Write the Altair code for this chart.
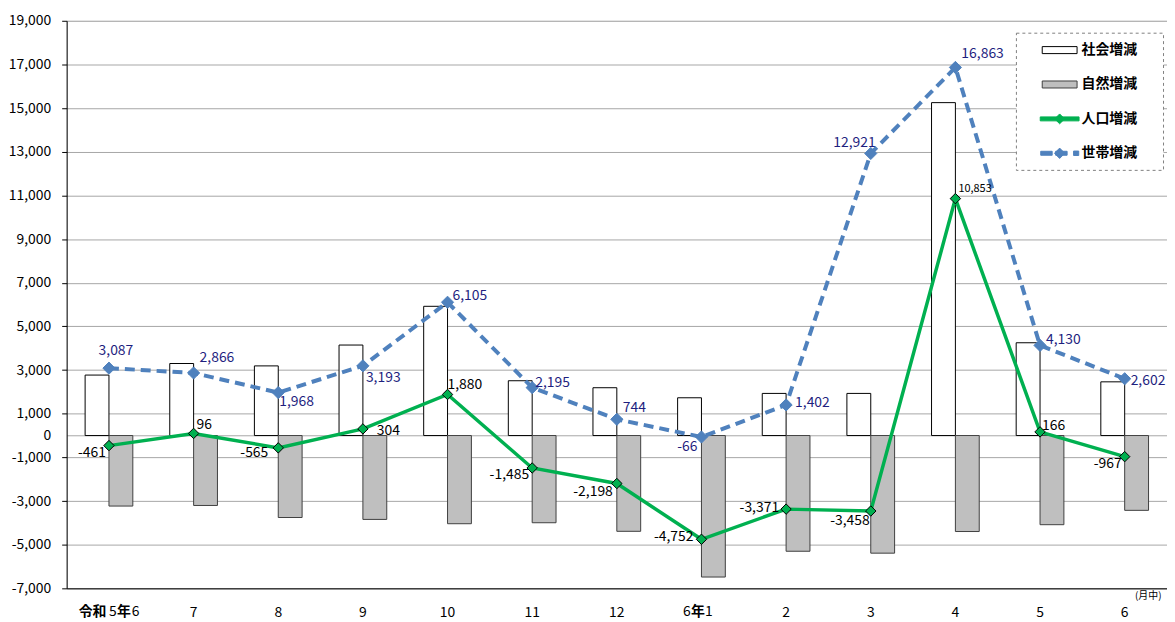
import altair as alt
import pandas as pd

FONT = "Noto Sans CJK JP"

# ---------------- data ----------------
MONTH_LABELS = ["令和5年6", "7", "8", "9", "10", "11", "12", "6年1", "2", "3", "4", "5", "6"]
SOCIAL = [2770, 3300, 3190, 4146, 5920, 2510, 2190, 1730, 1930, 1930, 15250, 4250, 2460]
NATURAL = [-3231, -3204, -3755, -3842, -4040, -3995, -4388, -6482, -5301, -5388, -4397, -4084, -3427]
POP = [-461, 96, -565, 304, 1880, -1485, -2198, -4752, -3371, -3458, 10853, 166, -967]
HH = [3087, 2866, 1968, 3193, 6105, 2195, 744, -66, 1402, 12921, 16863, 4130, 2602]
SERIES = ["社会増減", "自然増減", "人口増減", "世帯増減"]
Y_TICKS = [-7000, -5000, -3000, -1000, 0, 1000, 3000, 5000, 7000, 9000, 11000, 13000, 15000, 17000, 19000]
UNIT_NOTE = "(月中)"
# era labels with mixed weight: (month index, text piece, bold?)
ERA_LABEL_PARTS = [(0, "令和", True), (0, "5", False), (0, "年", True), (0, "6", False),
                   (7, "6", False), (7, "年", True), (7, "1", False)]

# ---------------- layout ----------------
HH_LABEL_POS = [("center", 7, -17), ("left", 6, -15), ("left", 1, 10), ("left", 3, 12),
                ("left", 5, -6), ("left", 3, -5), ("left", 6, -11), ("right", -4, 10),
                ("left", 9, -2), ("right", 5, -11), ("left", 6, -13), ("left", 6, -5),
                ("left", 6, 2)]
POP_LABEL_POS = [("right", -3, 7), ("left", 3, -8), ("right", -10, 5), ("left", 14, 2),
                 ("left", 0, -10), ("right", -3, 7), ("right", -4, 9), ("right", -8, -2),
                 ("right", -7, -1), ("right", -1, 10), ("left", 3, -10), ("left", 2, -6),
                 ("right", -3, 7)]
ERA_PART_DX = [-30.5, 0, 8, 23, -18.5, -10.5, 3.5]

W, H = 1107, 571
XLAB_PAD = 17

df = pd.DataFrame({
    "idx": list(range(len(MONTH_LABELS))),
    "social": SOCIAL,
    "natural": NATURAL,
    "pop": POP,
    "hh": HH,
})
df["pop_lbl"] = [f"{v:,}" for v in POP]
df["hh_lbl"] = [f"{v:,}" for v in HH]

era_idx = {p[0] for p in ERA_LABEL_PARTS}
axis_labels = ["" if i in era_idx else s for i, s in enumerate(MONTH_LABELS)]
label_expr = "[" + ",".join(f"'{s}'" for s in axis_labels) + "][datum.value]"

x_enc = alt.X(
    "idx:O",
    scale=alt.Scale(paddingInner=0, paddingOuter=0),
    axis=alt.Axis(
        labelExpr=label_expr, labelAngle=0, ticks=False, labelPadding=XLAB_PAD,
        labelFontSize=14, labelColor="#000", labelFont=FONT,
        domainColor="#000", domainWidth=1, grid=False,
        title=UNIT_NOTE, titleX=W - 6, titleY=7, titleAlign="right",
        titleBaseline="middle", titleFontSize=10, titleFontWeight="normal",
        titleColor="#000", titleFont=FONT,
    ),
)
y_scale = alt.Scale(domain=[-7000, 19000], nice=False, zero=False)
y_axis = alt.Axis(
    values=Y_TICKS, labelExpr="replace(format(datum.value, ','), '\u2212', '-')",
    title=None, grid=True, gridColor="#A6A6A6", gridWidth=1,
    tickSize=5, tickColor={"condition": {"test": "datum.value === 0", "value": "transparent"}, "value": "#000"},
    labelPadding=11, domainColor="#000",
    labelFontSize=14, labelColor="#000", labelFont=FONT,
)

base = alt.Chart(df)

white_bars = base.mark_bar(size=24, xOffset=-12, fill="white", stroke="#000", strokeWidth=1).encode(
    x=x_enc, y=alt.Y("social:Q", scale=y_scale, axis=y_axis), y2=alt.datum(0)
)
gray_bars = base.mark_bar(size=24, xOffset=12, fill="#BFBFBF", stroke="#404040", strokeWidth=1).encode(
    x=x_enc, y=alt.Y("natural:Q", scale=y_scale, axis=y_axis), y2=alt.datum(0)
)
hh_line = base.mark_line(color="#4F81BD", strokeWidth=4, strokeDash=[10, 6]).encode(
    x=x_enc, y=alt.Y("hh:Q", scale=y_scale, axis=y_axis)
)
hh_pts = base.mark_point(shape="diamond", filled=True, fill="#4F81BD", stroke="#4F81BD",
                         strokeWidth=1, size=150, opacity=1).encode(
    x=x_enc, y=alt.Y("hh:Q", scale=y_scale, axis=y_axis)
)
pop_line = base.mark_line(color="#00B050", strokeWidth=3.5).encode(
    x=x_enc, y=alt.Y("pop:Q", scale=y_scale, axis=y_axis)
)
pop_pts = base.mark_point(shape="diamond", filled=True, fill="#00B050", stroke="#000",
                          strokeWidth=1, size=110, opacity=1).encode(
    x=x_enc, y=alt.Y("pop:Q", scale=y_scale, axis=y_axis)
)

label_layers = []
for i, (al, dx, dy) in enumerate(HH_LABEL_POS):
    label_layers.append(
        base.transform_filter(alt.datum.idx == i).mark_text(
            align=al, dx=dx, dy=dy, baseline="middle", fontSize=14, color="#1F1F7F", font=FONT
        ).encode(x=x_enc, y=alt.Y("hh:Q", scale=y_scale, axis=y_axis), text="hh_lbl:N")
    )
for i, (al, dx, dy) in enumerate(POP_LABEL_POS):
    fs = 11 if POP[i] > 10000 else 14
    label_layers.append(
        base.transform_filter(alt.datum.idx == i).mark_text(
            align=al, dx=dx, dy=dy, baseline="middle", fontSize=fs, color="#000", font=FONT
        ).encode(x=x_enc, y=alt.Y("pop:Q", scale=y_scale, axis=y_axis), text="pop_lbl:N")
    )

# x labels with mixed weights (era names)
era_df = pd.DataFrame({
    "idx": [p[0] for p in ERA_LABEL_PARTS],
    "txt": [p[1] for p in ERA_LABEL_PARTS],
    "part": list(range(len(ERA_LABEL_PARTS))),
})
era_layers = []
for k, (mi, txt, bold) in enumerate(ERA_LABEL_PARTS):
    era_layers.append(
        alt.Chart(era_df).transform_filter(alt.datum.part == k).mark_text(
            align="left", baseline="top", dx=ERA_PART_DX[k], dy=XLAB_PAD, fontSize=14,
            fontWeight="bold" if bold else "normal", color="#000", font=FONT
        ).encode(x=x_enc, y=alt.Y(datum=-7000, scale=y_scale, axis=y_axis), text="txt:N")
    )

# legend driver (no visible points: values are empty)
FILL_RANGE = ["#FFFFFF", "#BFBFBF", "#00B050", "#4F81BD"]
STROKE_RANGE = ["#000000", "#404040", "#00B050", "#4F81BD"]
SHAPES = [
    "M-2.19,-0.44H2.19V0.44H-2.19Z",
    "M-2.19,-0.44H2.19V0.44H-2.19Z",
    "M-2.44,-0.25H2.44V0.25H-2.44Z M0,-0.62L0.62,0L0,0.62L-0.62,0Z",
    "M-2.38,-0.25H-0.94V0.25H-2.38Z M-0.5,-0.25H0.94V0.25H-0.5Z M0,-0.65L0.65,0L0,0.65L-0.65,0Z M1.75,-0.28H2.4V0.28H1.75Z",
]
leg_df = pd.DataFrame({"series": SERIES, "idx": [0] * 4, "v": [None] * 4})
# invisible spacer title on the right widens the legend box to the reference width
LEG_SPACER = "■"
leg_kw = dict(title=LEG_SPACER, titleOrient="right", titleColor="white", titleFontSize=14,
              titlePadding=3)
legend_layer = alt.Chart(leg_df).mark_point(filled=True, size=256, strokeWidth=1, opacity=1).encode(
    x=x_enc,
    y=alt.Y("v:Q", scale=y_scale, axis=y_axis),
    fill=alt.Fill("series:N", scale=alt.Scale(domain=SERIES, range=FILL_RANGE),
                  legend=alt.Legend(**leg_kw)),
    stroke=alt.Stroke("series:N", scale=alt.Scale(domain=SERIES, range=STROKE_RANGE),
                      legend=alt.Legend(**leg_kw)),
    shape=alt.Shape("series:N", scale=alt.Scale(domain=SERIES, range=SHAPES),
                    legend=alt.Legend(**leg_kw)),
)

chart = alt.layer(
    white_bars, gray_bars, hh_line, hh_pts, pop_line, pop_pts, *label_layers, *era_layers, legend_layer
).properties(
    width=W, height=H, padding={"left": 0, "top": 4, "right": 0, "bottom": 0}
).configure_view(stroke=None).configure(font=FONT).configure_legend(
    orient="none", legendX=955, legendY=12, padding=9, rowPadding=18.6,
    symbolSize=256, symbolOffset=26.5, labelOffset=13.5, labelFontSize=14, labelFont=FONT,
    labelFontWeight="bold", labelColor="#000", strokeColor="#808080",
    strokeDash=[3, 3], fillColor="white", symbolStrokeWidth=1,
)

chart.save("out.html", embed_options={"renderer": "svg", "actions": False})
